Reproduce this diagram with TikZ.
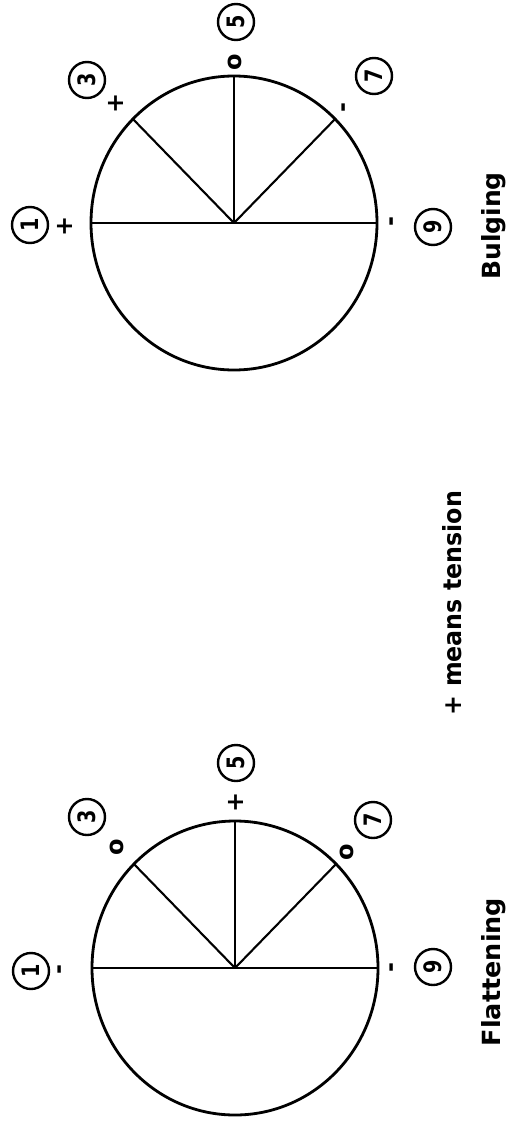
\documentclass[tikz,border=0pt]{standalone}
\usepackage{fontspec}
\usepackage{graphicx}
\setmainfont{DejaVu Sans}
\tikzset{
  ring/.style={line width=2.8pt},
  spoke/.style={line width=2.1pt},
  num/.style={draw, circle, line width=2.4pt, minimum size=36pt, inner sep=0pt, rotate=90,
    font=\fontsize{24}{24}\selectfont\bfseries},
  sgn/.style={rotate=90, inner sep=0pt, font=\fontsize{24}{24}\selectfont\bfseries},
  title/.style={rotate=90, anchor=base, inner sep=0pt, font=\fontsize{25}{30}\selectfont\bfseries},
}
\begin{document}
\begin{tikzpicture}[x=1pt,y=-1pt]
\useasboundingbox (0,0) rectangle (508,1124);
% ---------- Bulging ----------
\coordinate (c1) at (234,223);
\coordinate (c1w) at (91,223);
\coordinate (c1e) at (377,223);
\coordinate (c1n) at (234,76);
\coordinate (c1nw) at (132.9,119);
\coordinate (c1ne) at (335.1,119);
\draw[ring] (c1) ellipse [x radius=143pt, y radius=147pt];
\draw[spoke] (c1w) -- (c1e);
\draw[spoke] (c1) -- (c1n);
\draw[spoke] (c1) -- (c1nw);
\draw[spoke] (c1) -- (c1ne);
\node[num] (b1) at (30,225) {\scalebox{0.8}[1]{1}};
\node[sgn] (b1s) at (65,226) {+};
\node[num] (b3) at (87,80) {\scalebox{0.8}[1]{3}};
\node[sgn] (b3s) at (116,103) {+};
\node[num] (b5) at (236,22) {\scalebox{0.8}[1]{5}};
\node[sgn] (b5s) at (235,62) {o};
\node[num] (b7) at (374,76) {\scalebox{0.8}[1]{7}};
\node[sgn] (b7s) at (346,108) {-};
\node[sgn] (b9s) at (394,222) {-};
\node[num] (b9) at (433,227) {\scalebox{0.8}[1]{9}};
\node[title] (bt) at (500.5,226) {Bulging};
% ---------- Flattening ----------
\coordinate (c2) at (235,968);
\coordinate (c2w) at (92,968);
\coordinate (c2e) at (378,968);
\coordinate (c2n) at (235,821);
\coordinate (c2nw) at (133.9,864);
\coordinate (c2ne) at (336.1,864);
\draw[ring] (c2) ellipse [x radius=143pt, y radius=147pt];
\draw[spoke] (c2w) -- (c2e);
\draw[spoke] (c2) -- (c2n);
\draw[spoke] (c2) -- (c2nw);
\draw[spoke] (c2) -- (c2ne);
\node[num] (f1) at (31,971) {\scalebox{0.8}[1]{1}};
\node[sgn] (f1s) at (62,970) {-};
\node[num] (f3) at (87,817) {\scalebox{0.8}[1]{3}};
\node[sgn] (f3s) at (117,847) {o};
\node[num] (f5) at (236,763) {\scalebox{0.8}[1]{5}};
\node[sgn] (f5s) at (236,802) {+};
\node[num] (f7) at (373,820) {\scalebox{0.8}[1]{7}};
\node[sgn] (f7s) at (347,852) {o};
\node[sgn] (f9s) at (394,968) {-};
\node[num] (f9) at (433,967) {\scalebox{0.8}[1]{9}};
\node[title] (ft) at (500.5,972) {\scalebox{1.02}[1]{Flattening}};
% ---------- legend ----------
\node[title] (leg) at (461.7,603) {\scalebox{0.95}[1]{+ means tension}};
\end{tikzpicture}
\end{document}
